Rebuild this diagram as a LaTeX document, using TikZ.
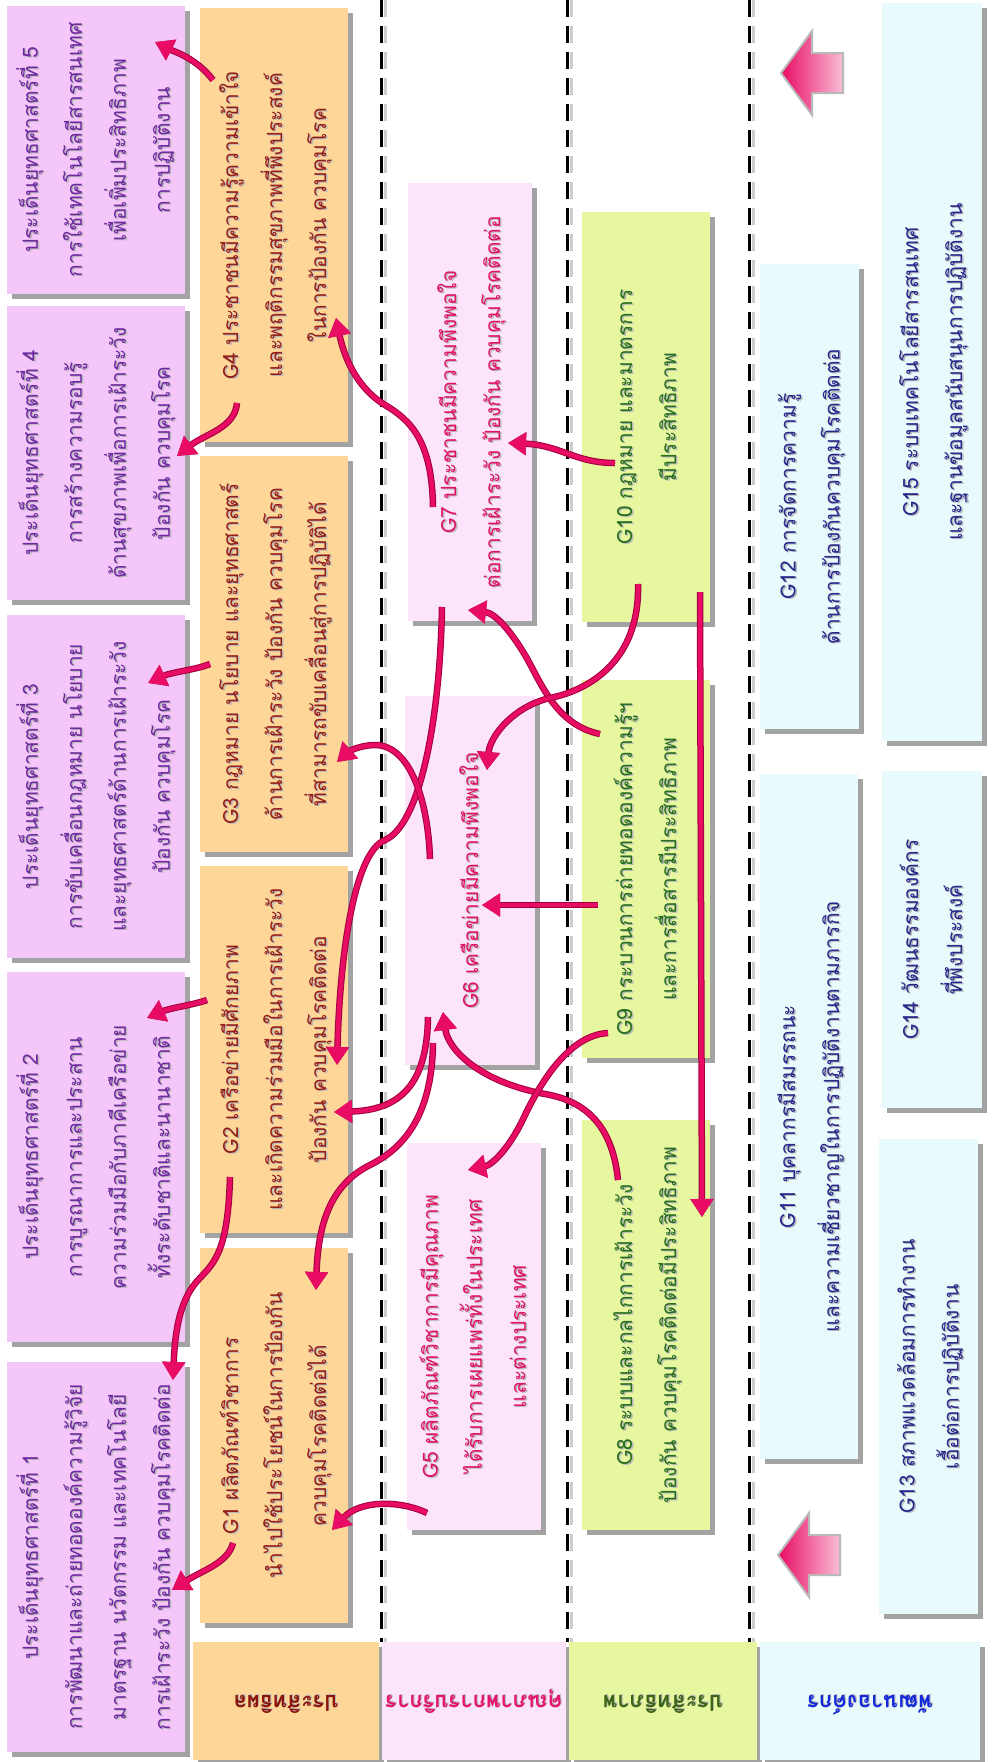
\documentclass[tikz,border=0pt]{standalone}
\usepackage{fontspec}
\newfontfamily\thai[Script=Thai]{Loma}
\usetikzlibrary{shadows,arrows.meta,calc}
\definecolor{siF}{RGB}{245,198,250}
\definecolor{siT}{RGB}{110,40,160}
\definecolor{orF}{RGB}{253,214,152}
\definecolor{orT}{RGB}{150,30,25}
\definecolor{pkF}{RGB}{252,228,250}
\definecolor{pkT}{RGB}{225,20,100}
\definecolor{grF}{RGB}{230,247,160}
\definecolor{grT}{RGB}{40,110,30}
\definecolor{cyF}{RGB}{232,250,252}
\definecolor{cyT}{RGB}{40,40,140}
\definecolor{labOr}{RGB}{140,20,10}
\definecolor{labPk}{RGB}{230,20,110}
\definecolor{labGr}{RGB}{60,100,20}
\definecolor{labCy}{RGB}{20,40,220}
\definecolor{arrC}{RGB}{232,12,100}
\definecolor{arrD}{RGB}{160,0,60}
\newcommand\shtab[1]{\leavevmode\rlap{\kern-1pt\raisebox{-1.6pt}{\color{black!28}\begin{tabular}{@{}c@{}}#1\end{tabular}}}\begin{tabular}{@{}c@{}}#1\end{tabular}}
\newcommand\vtext[1]{\rotatebox{90}{\shtab{#1}}}
\newcommand\ltext[1]{\rotatebox{180}{\shtab{#1}}}
\begin{document}
\begin{tikzpicture}[x=1pt,y=-1pt,
  wh/.style 2 args={minimum width=#1pt, minimum height=#2pt},
  box/.style={anchor=north west, inner sep=0pt, outer sep=0pt,
    font={\thai\fontsize{21}{44}\selectfont},
    drop shadow={shadow xshift=5pt,shadow yshift=-5pt,opacity=.45,fill=black!80}},
  si/.style={box, fill=siF, text=siT},
  og/.style={box, fill=orF, text=orT},
  pg/.style={box, fill=pkF, text=pkT},
  gg/.style={box, fill=grF, text=grT},
  cg/.style={box, fill=cyF, text=cyT},
  lab/.style={box, font={\thai\bfseries\fontsize{22}{30}\selectfont}},
  conn/.style={draw=arrC, line width=4.5pt, -{Triangle[length=18pt,width=22pt]},
    preaction={draw=arrD, line width=6.5pt}},
  sep/.style={draw=black, line width=3pt, dash pattern=on 17pt off 9pt},
  blockarr/.style={left color=arrC, right color={rgb,255:red,250;green,190;blue,215}, draw=gray!55, line width=2pt}
]
\useasboundingbox (0,0) rectangle (994,1762);
% separators
\foreach \xx in {381,567,749}{
  \draw[gray!40, line width=3pt, dash pattern=on 17pt off 9pt] (\xx+4,0) -- (\xx+4,1642);
  \draw[sep] (\xx,0) -- (\xx,1642);
}
% strategic issues
\node[si, wh={175}{288}] (SI5) at (7,6) {\vtext{ประเด็นยุทธศาสตร์ที่ 5\\การใช้เทคโนโลยีสารสนเทศ\\เพื่อเพิ่มประสิทธิภาพ\\การปฏิบัติงาน}};
\node[si, wh={175}{294}] (SI4) at (7,306) {\vtext{ประเด็นยุทธศาสตร์ที่ 4\\การสร้างความรอบรู้\\ด้านสุขภาพเพื่อการเฝ้าระวัง\\ป้องกัน ควบคุมโรค}};
\node[si, wh={175}{343}] (SI3) at (7,615) {\vtext{ประเด็นยุทธศาสตร์ที่ 3\\การขับเคลื่อนกฎหมาย นโยบาย\\และยุทธศาสตร์ด้านการเฝ้าระวัง\\ป้องกัน ควบคุมโรค}};
\node[si, wh={175}{370}] (SI2) at (7,972) {\vtext{ประเด็นยุทธศาสตร์ที่ 2\\การบูรณาการและประสาน\\ความร่วมมือกับภาคีเครือข่าย\\ทั้งระดับชาติและนานาชาติ}};
\node[si, wh={175}{390}] (SI1) at (7,1362) {\vtext{ประเด็นยุทธศาสตร์ที่ 1\\การพัฒนาและถ่ายทอดองค์ความรู้วิจัย\\มาตรฐาน นวัตกรรม และเทคโนโลยี\\การเฝ้าระวัง ป้องกัน ควบคุมโรคติดต่อ}};
% effectiveness
\node[og, wh={148}{434}] (G4) at (200,8) {\vtext{G4 ประชาชนมีความรู้ความเข้าใจ\\และพฤติกรรมสุขภาพที่พึงประสงค์\\ในการป้องกัน ควบคุมโรค}};
\node[og, wh={148}{396}] (G3) at (200,456) {\vtext{G3 กฎหมาย นโยบาย และยุทธศาสตร์\\ด้านการเฝ้าระวัง ป้องกัน ควบคุมโรค\\ที่สามารถขับเคลื่อนสู่การปฏิบัติได้}};
\node[og, wh={148}{367}] (G2) at (200,866) {\vtext{G2 เครือข่ายมีศักยภาพ\\และเกิดความร่วมมือในการเฝ้าระวัง\\ป้องกัน ควบคุมโรคติดต่อ}};
\node[og, wh={148}{375}] (G1) at (200,1248) {\vtext{G1 ผลิตภัณฑ์วิชาการ\\นำไปใช้ประโยชน์ในการป้องกัน\\ควบคุมโรคติดต่อได้}};
% service quality
\node[pg, wh={124}{438}] (G7) at (408,183) {\vtext{G7 ประชาชนมีความพึงพอใจ\\ต่อการเฝ้าระวัง ป้องกัน ควบคุมโรคติดต่อ}};
\node[pg, wh={130}{369}] (G6) at (405,696) {\vtext{G6 เครือข่ายมีความพึงพอใจ}};
\node[pg, wh={131}{387}] (G5) at (407,1143) {\vtext{G5 ผลิตภัณฑ์วิชาการมีคุณภาพ\\ได้รับการเผยแพร่ทั้งในประเทศ\\และต่างประเทศ}};
% efficiency
\node[gg, wh={128}{410}] (G10) at (582,212) {\vtext{G10 กฎหมาย และมาตรการ\\มีประสิทธิภาพ}};
\node[gg, wh={128}{378}] (G9) at (582,680) {\vtext{G9 กระบวนการถ่ายทอดองค์ความรู้ฯ\\และการสื่อสารมีประสิทธิภาพ}};
\node[gg, wh={128}{410}] (G8) at (582,1120) {\vtext{G8 ระบบและกลไกการเฝ้าระวัง\\ป้องกัน ควบคุมโรคติดต่อมีประสิทธิภาพ}};
% organisation development
\node[cg, wh={99}{465}] (G12) at (760,264) {\vtext{G12 การจัดการความรู้\\ด้านการป้องกันควบคุมโรคติดต่อ}};
\node[cg, wh={98}{685}] (G11) at (760,774) {\vtext{G11 บุคลากรมีสมรรถนะ\\และความเชี่ยวชาญในการปฏิบัติงานตามภารกิจ}};
\node[cg, wh={100}{738}] (G15) at (882,3) {\vtext{G15 ระบบเทคโนโลยีสารสนเทศ\\และฐานข้อมูลสนับสนุนการปฏิบัติงาน}};
\node[cg, wh={100}{337}] (G14) at (882,771) {\vtext{G14 วัฒนธรรมองค์กร\\ที่พึงประสงค์}};
\node[cg, wh={99}{475}] (G13) at (879,1139) {\vtext{G13 สภาพแวดล้อมการทำงาน\\เอื้อต่อการปฏิบัติงาน}};
% perspective labels
\node[lab, fill=orF, text=labOr, wh={186}{118}] (L1) at (193,1642) {\ltext{ประสิทธิผล}};
\node[lab, fill=pkF, text=labPk, wh={184}{118}] (L2) at (382,1642) {\ltext{คุณภาพการบริการ}};
\node[lab, fill=grF, text=labGr, wh={188}{118}] (L3) at (569,1642) {\ltext{ประสิทธิภาพ}};
\node[lab, fill=cyF, text=labCy, wh={220}{118}] (L4) at (760,1642) {\ltext{พัฒนาองค์กร}};
% block arrows
\shadedraw[blockarr] (781,73) -- (812,31) -- (812,53) -- (843,53) -- (843,93) -- (812,93) -- (812,115) -- cycle;
\shadedraw[blockarr] (778,1555) -- (809,1513) -- (809,1535) -- (840,1535) -- (840,1575) -- (809,1575) -- (809,1597) -- cycle;
% connectors
\draw[conn] ([shift={(13,72)}]G4.north west) .. controls (196,58) and (175,52) .. ([shift={(148,36)}]SI5.north west);
\draw[conn] ([shift={(37,395)}]G4.north west) .. controls (235,428) and (205,434) .. ([shift={(170,150)}]SI4.north west);
\draw[conn] ([shift={(10,208)}]G3.north west) .. controls (195,670) and (172,672) .. ([shift={(141,68)}]SI3.north west);
\draw[conn] ([shift={(7,134)}]G2.north west) .. controls (193,1005) and (170,1008) .. ([shift={(140,46)}]SI2.north west);
\draw[conn] ([shift={(33,295)}]G1.north west) .. controls (228,1563) and (203,1570) .. ([shift={(165,228)}]SI1.north west);
\draw[conn] ([shift={(30,311)}]G2.north west) .. controls (228,1250) and (215,1262) .. (200,1278) .. controls (180,1298) and (175,1330) .. ([shift={(166,18)}]SI1.north west);
\draw[conn] ([shift={(23,321)}]G6.north west) .. controls (427,1085) and (400,1110) .. ([shift={(134,246)}]G2.north west);
\draw[conn] ([shift={(28,347)}]G6.north west) .. controls (432,1120) and (400,1150) .. (370,1165) .. controls (330,1185) and (318,1225) .. ([shift={(116,42)}]G1.north west);
\draw[conn] ([shift={(36,60)}]G8.north west) .. controls (612,1120) and (580,1100) .. (545,1094) .. controls (480,1082) and (448,1050) .. ([shift={(38,316)}]G6.north west);
\draw[conn] ([shift={(26,353)}]G9.north west) .. controls (570,1035) and (542,1080) .. (525,1115) .. controls (510,1148) and (492,1165) .. ([shift={(61,27)}]G5.north west);
\draw[conn] ([shift={(16,225)}]G9.north west) -- ([shift={(77,209)}]G6.north west);
\draw[conn] ([shift={(18,54)}]G9.north west) .. controls (555,725) and (540,680) .. (525,655) .. controls (510,630) and (495,613) .. ([shift={(60,427)}]G7.north west);
\draw[conn] ([shift={(56,372)}]G10.north west) .. controls (640,660) and (590,690) .. (550,698) .. controls (515,706) and (490,735) .. ([shift={(82,74)}]G6.north west);
\draw[conn] ([shift={(33,251)}]G10.north west) .. controls (575,463) and (560,445) .. ([shift={(100,260)}]G7.north west);
\draw[conn] ([shift={(25,324)}]G7.north west) .. controls (432,440) and (410,420) .. (385,405) .. controls (360,390) and (345,362) .. ([shift={(136,310)}]G4.north west);
\draw[conn] ([shift={(34,424)}]G7.north west) .. controls (440,720) and (420,825) .. (385,840) .. controls (355,852) and (340,950) .. ([shift={(137,199)}]G2.north west);
\draw[conn] ([shift={(25,163)}]G6.north west) .. controls (428,800) and (410,745) .. (375,745) .. controls (360,745) and (348,752) .. ([shift={(137,306)}]G3.north west);
\draw[conn] ([shift={(118,380)}]G10.north west) -- ([shift={(120,97)}]G8.north west);
\draw[conn] ([shift={(20,370)}]G5.north west) .. controls (400,1500) and (360,1500) .. ([shift={(132,282)}]G1.north west);
\end{tikzpicture}
\end{document}
